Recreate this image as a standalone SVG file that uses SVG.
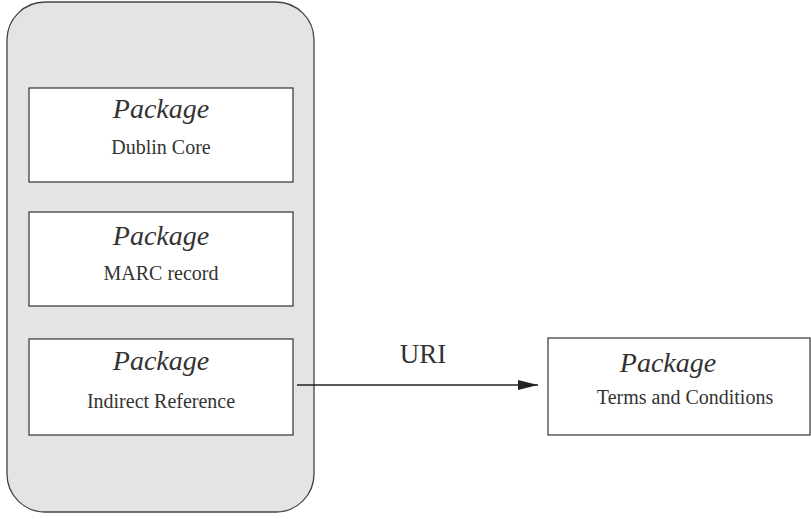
<svg xmlns="http://www.w3.org/2000/svg" width="811" height="519" viewBox="0 0 811 519">
  <style>
    .box { fill: #ffffff; stroke: #333333; stroke-width: 1.2; }
    .container { fill: #e4e4e4; stroke: #444444; stroke-width: 1.3; }
    .title { font-family: "Liberation Serif", serif; font-style: italic; font-size: 28px; fill: #333333; text-anchor: middle; }
    .sub { font-family: "Liberation Serif", serif; font-size: 20px; fill: #333333; text-anchor: middle; }
    .label { font-family: "Liberation Serif", serif; font-size: 27px; fill: #333333; text-anchor: middle; }
    .edge { stroke: #222222; stroke-width: 1.6; fill: none; }
  </style>
  <defs>
    <marker id="arrow" markerWidth="20" markerHeight="10" refX="20" refY="5" orient="auto" markerUnits="userSpaceOnUse">
      <path d="M0,0 L20,5 L0,10 Z" fill="#222222"/>
    </marker>
  </defs>

  <g id="container">
    <rect class="container" x="7" y="2" width="307" height="510" rx="38" ry="38"/>
  </g>

  <g id="pkg-dublin-core">
    <rect class="box" x="29" y="88" width="264" height="94"/>
    <text class="title" x="161" y="118">Package</text>
    <text class="sub" x="161" y="154">Dublin Core</text>
  </g>

  <g id="pkg-marc-record">
    <rect class="box" x="29" y="212" width="264" height="94"/>
    <text class="title" x="161" y="245">Package</text>
    <text class="sub" x="161" y="280">MARC record</text>
  </g>

  <g id="pkg-indirect-reference">
    <rect class="box" x="29" y="339" width="264" height="96"/>
    <text class="title" x="161" y="370">Package</text>
    <text class="sub" x="161" y="408">Indirect Reference</text>
  </g>

  <g id="pkg-terms-conditions">
    <rect class="box" x="548" y="338" width="262" height="97"/>
    <text class="title" x="668" y="372">Package</text>
    <text class="sub" x="685" y="404">Terms and Conditions</text>
  </g>

  <g id="connectors">
    <line class="edge" x1="297" y1="385" x2="538" y2="385" marker-end="url(#arrow)"/>
    <text class="label" x="423" y="363">URI</text>
  </g>
</svg>
